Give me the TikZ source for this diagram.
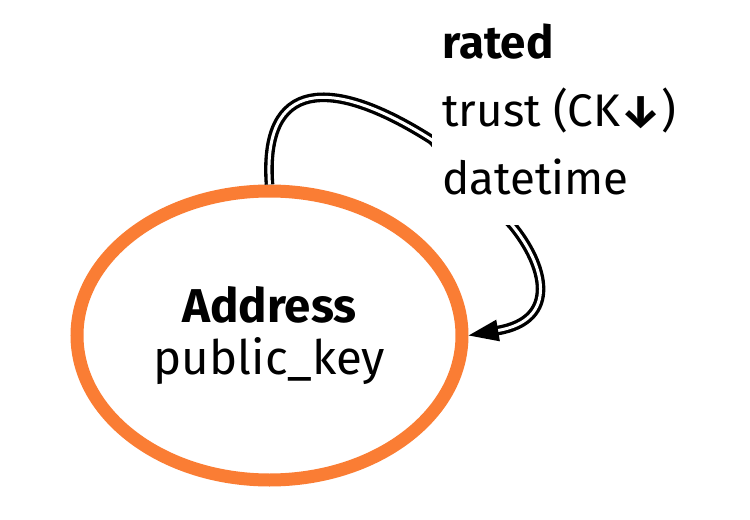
\documentclass[tikz,border=0pt]{standalone}
\usepackage{fontspec}
\setmainfont{Fira Sans}
\usetikzlibrary{arrows.meta, shapes.geometric}
\usepackage{xcolor}
\definecolor{addrorange}{RGB}{250,125,52}

\begin{document}
\begin{tikzpicture}[>={Triangle[length=0.6cm,width=0.42cm]}]
    \tikzstyle{entity}=[ellipse,draw=addrorange,line width=0.26cm,minimum width=7.7cm,minimum height=5.78cm,align=center,inner sep=0pt,font=\fontsize{27}{29.5}\selectfont]
    \tikzstyle{rel}=[double,draw=black,line width=1.9pt,double distance=1.7pt]
    \tikzstyle{annot}=[fill=white,align=left,inner xsep=0.2cm,inner ysep=0.6cm,font=\fontsize{26}{38.7}\selectfont]
    \useasboundingbox (0,0) rectangle (15,10.38);

    % the entity
    \node[entity] (addr) at (5.39,3.67) {\textbf{Address}\\public\_key};

    % self relation, passes under its label
    \draw[rel,->] (addr.north) .. controls (5.24,8.78) and (6.6,8.88) .. (8.64,7.58)
        coordinate (hid) -- (10.24,5.88)
        .. controls (10.9,5.08) and (11.2,3.98) .. (addr.east);

    \node[annot,anchor=north west] (rated) at (8.64,10.52)
        {\textbf{rated}\\trust (CK\textbf{↓})\\datetime};
\end{tikzpicture}
\end{document}
